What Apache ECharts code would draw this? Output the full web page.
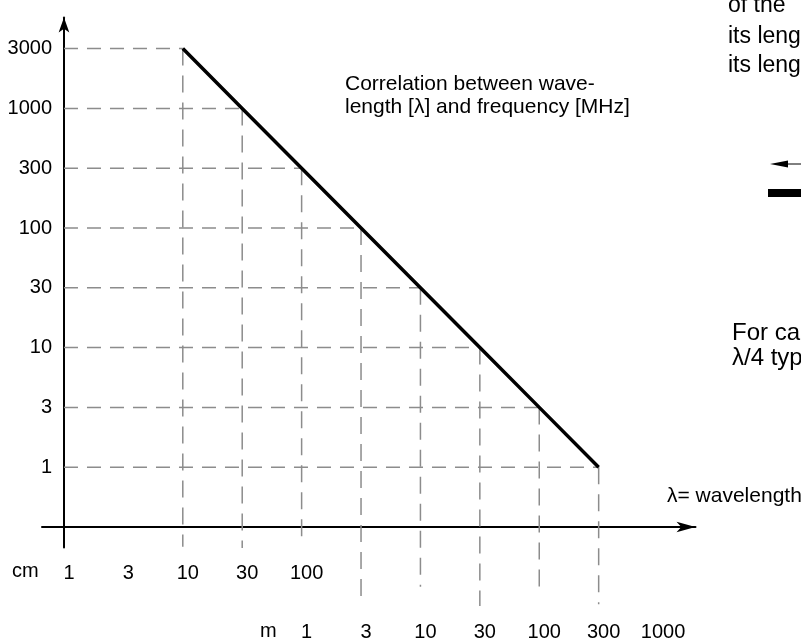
<!DOCTYPE html>
<html><head><meta charset="utf-8">
<script src="https://cdn.jsdelivr.net/npm/echarts@6/dist/echarts.min.js"></script>
<style>html,body{margin:0;padding:0;background:#fff}#c{width:801px;height:644px}</style>
</head><body><div id="c"></div>
<script>
// Wavelength ladder along the x axis (metres), equally spaced steps
const wavelengthSteps = [0.01, 0.03, 0.1, 0.3, 1, 3, 10, 30, 100, 300, 1000];
const cmTickLabels = ['1', '3', '10', '30', '100'];
const mTickLabels = ['1', '3', '10', '30', '100', '300', '1000'];
// Frequency ladder along the y axis (MHz), equally spaced steps
const freqSteps = [1, 3, 10, 30, 100, 300, 1000, 3000];
const freqTickLabels = ['1', '3', '10', '30', '100', '300', '1000', '3000'];
// Correlation line: wavelength (m) vs frequency (MHz)
const lineWavelength = [0.1, 0.3, 1, 3, 10, 30, 100, 300];
const lineFrequency = [3000, 1000, 300, 100, 30, 10, 3, 1];

// style: how far each vertical guide drops below the x axis (in y steps)
const dropEnds = [-0.33, -0.35, -0.27, -1.22, -1.0, -1.32, -1.1, -1.29];

const FONT = 'Liberation Sans, Arial, Helvetica, sans-serif';
const xIdx = w => wavelengthSteps.indexOf(w);
const yIdx = f => freqSteps.indexOf(f) + 1;

const pts = lineWavelength.map((w, i) => [xIdx(w), yIdx(lineFrequency[i])]);
const hGuide = {color: '#8c8c8c', width: 1.5, type: [14, 9]};
const vGuide = {color: '#8c8c8c', width: 1.5, type: [17, 10]};
const series = [];
pts.forEach((p, i) => {
  series.push({type: 'line', data: [[0, p[1]], [p[0], p[1]]], symbol: 'none', silent: true,
    clip: false, z: 2, lineStyle: hGuide});
  series.push({type: 'line', data: [[p[0], p[1]], [p[0], dropEnds[i]]], symbol: 'none', silent: true,
    clip: false, z: 2, lineStyle: vGuide});
});
series.push({type: 'line', data: pts, symbol: 'none', silent: true, z: 5,
  lineStyle: {color: '#000', width: 3.5}});

const tickText = {fontSize: 20, color: '#000', fontFamily: FONT};
const chart = echarts.init(document.getElementById('c'), null, {renderer: 'canvas'});
chart.setOption({
  animation: false,
  backgroundColor: '#fff',
  grid: {left: 42, right: 105.5, top: 17.5, bottom: 96.5, containLabel: false, outerBoundsMode: 'none'},
  xAxis: [
    {type: 'value', position: 'bottom', min: -0.37, max: 10.63,
      splitLine: {show: false}, axisTick: {show: false},
      axisLine: {show: true, onZero: true, symbol: ['none', 'arrow'], symbolSize: [8, 19],
        lineStyle: {color: '#000', width: 2}},
      axisLabel: Object.assign({customValues: [0, 1, 2, 3, 4], formatter: v => cmTickLabels[v],
        margin: 16, padding: [0, 0, 0, 10]}, tickText)},
    {type: 'value', position: 'bottom', min: -0.37, max: 10.63,
      splitLine: {show: false}, axisTick: {show: false},
      axisLine: {show: false, onZero: false},
      axisLabel: Object.assign({customValues: [4, 5, 6, 7, 8, 9, 10], formatter: v => mTickLabels[v - 4],
        margin: 75, padding: [0, 0, 0, 10]}, tickText)}
  ],
  yAxis: {type: 'value', min: -0.343, max: 8.52,
    splitLine: {show: false}, axisTick: {show: false},
    axisLine: {show: true, onZero: true, symbol: ['none', 'arrow'], symbolSize: [8, 15],
      lineStyle: {color: '#000', width: 2}},
    axisLabel: Object.assign({customValues: [1, 2, 3, 4, 5, 6, 7, 8], formatter: v => freqTickLabels[v - 1],
      margin: -10}, tickText)},
  series: series,
  graphic: [
    {type: 'text', left: 12, top: 561, style: {text: 'cm', font: '20px ' + FONT, fill: '#000'}},
    {type: 'text', left: 260, top: 621, style: {text: 'm', font: '20px ' + FONT, fill: '#000'}},
    {type: 'text', left: 345, top: 73, style: {text: 'Correlation between wave-\nlength [\u03bb] and frequency [MHz]',
      font: '21px ' + FONT, fill: '#000', lineHeight: 23}},
    {type: 'text', left: 667, top: 486, style: {text: '\u03bb= wavelength', font: '21px ' + FONT, fill: '#000'}},
    {type: 'text', left: 728, top: -6, style: {text: 'of the', font: '23px ' + FONT, fill: '#000'}},
    {type: 'text', left: 728, top: 25, style: {text: 'its leng', font: '23px ' + FONT, fill: '#000'}},
    {type: 'text', left: 728, top: 54, style: {text: 'its leng', font: '23px ' + FONT, fill: '#000'}},
    {type: 'text', left: 732, top: 321, style: {text: 'For ca', font: '24px ' + FONT, fill: '#000'}},
    {type: 'text', left: 732, top: 346, style: {text: '\u03bb/4 typ', font: '24px ' + FONT, fill: '#000'}},
    {type: 'polygon', shape: {points: [[770, 164], [788, 160.5], [788, 167.5]]}, style: {fill: '#000'}},
    {type: 'line', shape: {x1: 786, y1: 164, x2: 801, y2: 164}, style: {stroke: '#000', lineWidth: 1}},
    {type: 'rect', shape: {x: 768, y: 189, width: 40, height: 8}, style: {fill: '#000'}}
  ]
});
</script></body></html>
